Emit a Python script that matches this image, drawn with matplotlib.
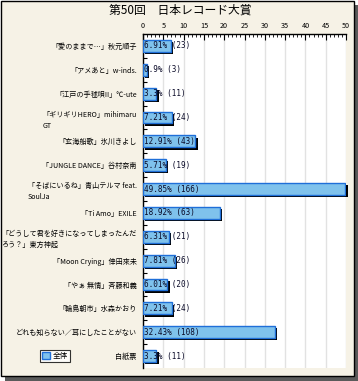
import matplotlib
matplotlib.use("Agg")
import matplotlib.pyplot as plt
import matplotlib.transforms as mtransforms
from matplotlib.patches import Rectangle, Patch

plt.rcParams['font.family'] = ['Noto Sans CJK JP', 'DejaVu Sans']

categories = [
    "「愛のままで…」秋元順子",
    "「アメあと」w-inds.",
    "「江戸の手毬唄II」℃-ute",
    "「ギリギリHERO」mihimaru\nGT",
    "「玄海船歌」氷川きよし",
    "「JUNGLE DANCE」谷村奈南",
    "「そばにいるね」青山テルマ feat.\nSoulJa",
    "「Ti Amo」EXILE",
    "「どうして君を好きになってしまったんだ\nろう？」東方神起",
    "「Moon Crying」倖田來未",
    "「やぁ 無情」斉藤和義",
    "「輪島朝市」水森かおり",
    "どれも知らない／耳にしたことがない",
    "白紙票",
]
percents = [6.91, 0.9, 3.3, 7.21, 12.91, 5.71, 49.85, 18.92, 6.31, 7.81, 6.01, 7.21, 32.43, 3.3]
counts = [23, 3, 11, 24, 43, 19, 166, 63, 21, 26, 20, 24, 108, 11]
xticks = [0, 5, 10, 15, 20, 25, 30, 35, 40, 45, 50]
title = "第50回　日本レコード大賞"
legend_label = "全体"

W, H = 358, 381
DPI = 100
BEIGE = "#f6f2e6"
fig = plt.figure(figsize=(W / DPI, H / DPI), dpi=DPI, facecolor="white")

def fx(px):
    return px / W

def fy(py):
    return 1 - py / H

# outer frame with shadow
fig.patches.append(Rectangle((fx(5), fy(381)), fx(353), 376 / H, transform=fig.transFigure,
                             facecolor="#5a5a5a", edgecolor="none", zorder=-3))
fig.patches.append(Rectangle((fx(0.5), fy(375.5)), fx(353), 375 / H, transform=fig.transFigure,
                             facecolor=BEIGE, edgecolor="black", linewidth=1.0, zorder=-2))

ax = fig.add_axes([fx(143), fy(368), fx(346) - fx(143), (368 - 34) / H])
ax.set_facecolor("white")

n = len(categories)
ypos = list(range(n))

shadow_tr = ax.transData + mtransforms.ScaledTranslation(2.2 / DPI, -2.2 / DPI, fig.dpi_scale_trans)
ax.barh(ypos, percents, height=0.5, color="black", transform=shadow_tr, zorder=2, clip_on=False)
ax.barh(ypos, percents, height=0.5, color="#7fc2ec", edgecolor="#1f6fd8", linewidth=1.0, zorder=3)

for y, p, c in zip(ypos, percents, counts):
    ax.text(0.2, y, f"{p:g}% ({c})", va="center", ha="left", fontsize=5.5,
            family="DejaVu Sans Mono", color="#0a0a28", zorder=4)

ax.set_xlim(0, 50)
ax.set_ylim(n - 0.5, -0.5)
ax.xaxis.tick_top()
ax.set_xticks(xticks)
ax.set_xticklabels([str(t) for t in xticks], fontsize=5.2)
ax.set_xticks([x for x in range(0, 51) if x % 5], minor=True)
ax.tick_params(axis="x", which="major", direction="in", length=4, width=0.8, pad=3, top=True, bottom=False)
ax.tick_params(axis="x", which="minor", direction="in", length=2.5, width=0.6, top=True, bottom=False)

ax.set_yticks(ypos)
ax.set_yticklabels(categories, fontsize=5.1, multialignment="left", linespacing=1.5)
ax.set_yticks([k + 0.5 for k in range(n - 1)], minor=True)
ax.tick_params(axis="y", which="major", length=0, pad=4.5)
ax.tick_params(axis="y", which="minor", direction="in", length=3, width=0.8)

ax.grid(axis="x", which="major", color="#e2e2e2", linewidth=1.0, zorder=0)
ax.set_axisbelow(True)
for side in ["right", "bottom"]:
    ax.spines[side].set_visible(False)
ax.spines["left"].set_linewidth(1.0)
ax.spines["top"].set_linewidth(1.0)

fig.text(fx(180), fy(10), title, ha="center", va="center", fontsize=8.5)

leg = fig.legend(handles=[Patch(facecolor="#7fc2ec", edgecolor="#1f6fd8")], labels=[legend_label],
                 loc="center", bbox_to_anchor=(fx(55), fy(356)), fontsize=5.5, frameon=True,
                 fancybox=False, edgecolor="black", handlelength=1.0, handleheight=1.0,
                 handletextpad=0.3, borderpad=0.3, borderaxespad=0)
leg.get_frame().set_linewidth(0.8)

fig.savefig("out.png", dpi=DPI, facecolor=fig.get_facecolor())
